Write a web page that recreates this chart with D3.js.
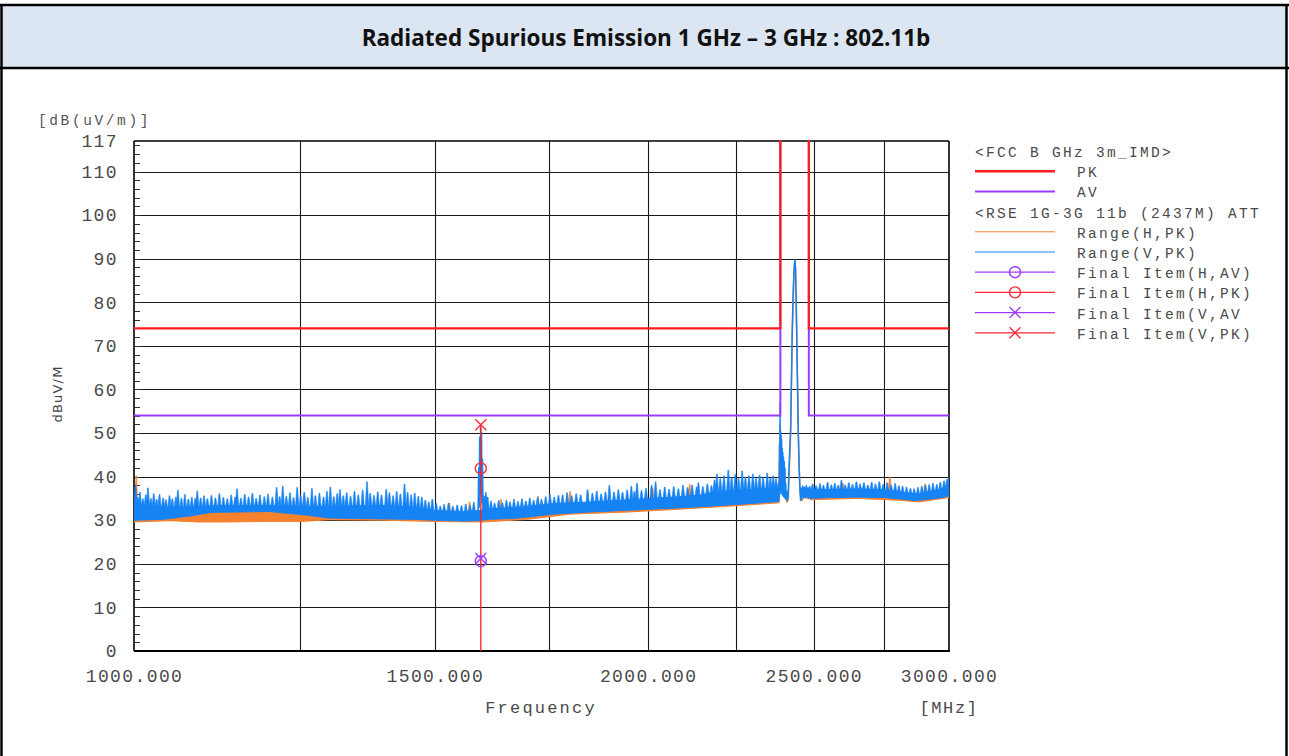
<!DOCTYPE html>
<html>
<head>
<meta charset="utf-8">
<script src="https://cdn.jsdelivr.net/npm/d3@7/dist/d3.min.js"></script>
<style>
  body { margin: 0; background: #fff; }
  svg { display: block; }
</style>
</head>
<body>
<script>
// ---- DONNEES ----

var titre = "Radiated Spurious Emission 1 GHz \u2013 3 GHz : 802.11b";

var yTicks = [0, 10, 20, 30, 40, 50, 60, 70, 80, 90, 100, 110, 117];
var xTicks = [1000, 1500, 2000, 2500, 3000];
var xGrid = [1250, 1500, 1750, 2000, 2250, 2500, 2750];

// limites FCC (MHz, dBuV/m) ; 140 = hors cadre (coupe)
var limitPK = [[1000, 74], [2390, 74], [2390, 140], [2483.5, 140], [2483.5, 74], [3000, 74]];
var limitAV = [[1000, 54], [2390, 54], [2390, 140], [2483.5, 140], [2483.5, 54], [3000, 54]];

// Range(V,PK) : enveloppe du bruit [f, bas, haut]
var coreV_a = [[1000,30.0,33.4],[1040,30.2,33.0],[1080,31.0,33.0],[1110,31.8,33.3],[1200,32.0,33.4],
  [1260,31.2,33.2],[1300,30.5,33.2],[1400,30.3,33.4],[1460,30.2,33.0],[1500,30.0,32.2],[1560,29.8,32.0],
  [1590,29.9,32.2],[1615,30.2,32.6],[1680,30.5,33.0],[1760,31.4,33.8],[1850,31.9,34.2],[1950,32.3,34.7],
  [2050,32.7,35.2],[2150,33.1,35.8],[2190,33.3,36.6],[2250,33.6,36.8],[2330,34.0,37.2],[2386,34.3,37.4]];
var coreV_b = [[2488,35.0,37.0],[2560,35.2,37.0],[2650,35.3,37.2],[2750,35.2,37.0],[2820,34.8,36.4],
  [2870,34.5,36.0],[2930,34.9,36.6],[2975,35.2,37.2],[3000,35.6,37.8]];

// Range(V,PK) : pointes [f, niveau]
var spikesV = [[1002,38.0],[1005,35.2],[1008,36.4],[1012,34.9],[1016,35.8],[1019,37.4],[1023,35.0],[1027,36.1],
  [1031,34.8],[1035,35.9],[1040,35.1],[1044,34.7],[1049,35.6],[1053,34.9],[1058,35.3],[1061,36.9],[1066,35.0],
  [1071,35.9],[1076,34.8],[1081,35.3],[1086,35.0],[1089,36.7],[1094,35.1],[1099,35.6],[1104,34.9],[1110,35.7],
  [1116,35.1],[1122,36.1],[1128,35.2],[1134,34.9],[1140,35.8],[1146,35.3],[1149,37.2],[1155,35.1],[1161,35.9],
  [1167,35.3],[1173,36.2],[1179,35.0],[1185,35.8],[1192,35.4],[1198,36.0],[1205,35.3],[1212,37.5],[1217,35.4],
  [1222,37.8],[1228,35.5],[1234,36.3],[1240,35.2],[1246,37.5],[1252,35.6],[1258,36.4],[1264,35.2],[1271,37.3],
  [1277,35.6],[1284,36.2],[1291,35.3],[1297,36.6],[1303,37.6],[1309,35.4],[1315,36.1],[1320,37.0],[1326,35.6],
  [1332,36.3],[1339,35.5],[1346,36.6],[1353,35.8],[1361,36.9],[1369,38.8],[1375,36.2],[1382,35.7],[1389,36.5],
  [1396,35.8],[1405,37.1],[1411,36.3],[1418,35.6],[1425,36.6],[1432,36.0],[1440,38.3],[1446,36.4],[1453,35.8],
  [1460,36.2],[1467,35.5],[1474,35.3],[1481,34.6],[1488,34.2],[1495,34.8],
  [1503,33.8],[1511,33.2],[1519,33.6],[1528,33.9],[1537,33.2],[1546,33.5],[1555,33.3],[1564,33.7],[1573,33.4],[1581,34.1],
  [1618,34.4],[1626,33.9],[1635,34.5],[1643,34.0],[1652,34.6],[1660,34.2],[1669,34.8],[1678,34.3],[1687,34.9],
  [1696,34.4],[1705,35.1],[1714,34.6],[1723,35.2],[1732,34.8],[1742,35.4],[1752,35.8],[1762,35.3],[1772,35.7],
  [1782,35.8],[1793,36.3],[1804,35.6],[1815,36.1],[1826,35.8],[1843,37.0],[1855,36.2],[1866,36.7],[1877,36.0],
  [1888,36.5],[1898,38.0],[1910,36.5],[1921,37.0],[1932,36.4],[1944,36.9],[1955,37.8],[1963,36.6],[1970,38.5],
  [1982,36.8],[1994,37.3],[2009,38.0],[2020,38.8],[2032,37.0],[2045,37.6],[2057,37.1],[2070,37.7],[2083,37.2],
  [2096,38.0],[2109,37.5],[2122,38.1],[2135,37.6],[2140,38.6],[2153,37.7],[2166,38.3],[2178,37.9],[2187,39.2],
  [2194,40.6],[2204,39.5],[2215,40.2],[2228,41.5],[2238,39.8],[2249,40.5],[2259,39.6],[2270,41.3],[2280,39.8],
  [2291,40.2],[2303,40.6],[2313,39.6],[2324,40.3],[2335,39.8],[2348,40.8],[2358,39.7],[2367,40.2],[2376,39.5],
  [2496,38.3],[2508,37.9],[2521,38.4],[2533,38.0],[2547,38.7],[2560,38.1],[2572,38.5],[2584,38.0],[2595,39.2],
  [2608,38.1],[2621,38.6],[2634,38.2],[2648,38.8],[2661,38.3],[2675,38.6],[2689,38.1],[2703,38.7],[2717,38.3],
  [2731,38.8],[2745,38.2],[2760,38.6],[2775,38.0],[2790,38.4],[2804,37.9],[2818,37.8],[2833,37.6],[2848,37.3],
  [2862,37.2],[2877,37.5],[2892,37.8],[2906,38.0],[2921,38.2],[2936,38.5],[2951,38.2],[2965,38.7],[2980,39.0],
  [2992,39.4],[2999,39.8]];

// Range(V,PK) : trace detaillee autour des raies [f, niveau]
var traceV_1596 = [[1586,31.0],[1590,31.2],[1591.5,42.0],[1592.5,33.0],[1593.5,49.0],[1594.5,36.0],[1595.5,51.3],
  [1596.5,38.0],[1597.5,50.2],[1598.5,34.0],[1599.5,44.0],[1601,31.5],[1603,35.5],[1605,31.8],[1607,36.3],
  [1609,32.0],[1611,35.2],[1613,31.6]];
var traceV_2437 = [[2381,35.0],[2384,38.4],[2386,35.2],[2387.5,47.5],[2388.5,36.0],[2389,57.0],[2390,38.0],
  [2390.8,50.5],[2391.6,37.0],[2392.4,49.5],[2393.2,36.5],[2394,48.5],[2395,36.0],[2396,46.5],[2397,35.8],
  [2398,45.5],[2399,35.5],[2400,44.5],[2401.2,35.4],[2402.4,43.5],[2403.6,35.2],[2404.8,42.0],[2406,35.0],
  [2407.5,38.5],[2409,34.8],[2411,36.6],[2413,34.5],[2415.6,36.2],[2419,44.0],[2423.4,51.0],[2426,62.0],
  [2428.6,73.6],[2432,83.5],[2435.5,88.6],[2437.5,89.7],[2439.5,87.6],[2441.5,80.5],[2443.1,73.6],[2446,61.0],
  [2448.4,50.7],[2451,42.5],[2454,37.0],[2456,34.6],[2458,37.4],[2460,35.0],[2463,37.8],[2466,35.2],[2469,37.6],
  [2472,35.1],[2475,37.9],[2478,35.3],[2481,37.5],[2484,35.0],[2487,37.7],[2490,35.2]];

// Range(H,PK)
var coreH_a = [[1000,29.6,31.0],[1050,29.9,31.2],[1090,29.6,31.9],[1130,29.6,32.4],[1190,29.7,32.3],
  [1250,29.7,31.8],[1300,30.1,31.2],[1400,30.0,31.0],[1500,29.7,30.8],[1600,29.6,31.0],[1700,30.2,31.6],
  [1800,31.4,32.6],[1950,31.9,33.4],[2100,32.6,34.4],[2250,33.3,35.6],[2386,34.0,36.4]];
var coreH_b = [[2488,34.7,36.8],[2650,35.0,37.0],[2800,34.6,36.6],[2880,34.2,36.0],[3000,35.2,37.6]];
var spikesH = [[1003,40.2],[1258,35.8],[1530,33.9],[1572,34.2],[1640,34.8],[1724,35.5],[1800,36.6],
  [2012,37.4],[2115,38.2],[2600,38.4],[2770,39.9],[2905,38.3]];
var traceH_1596 = [[1590,30.6],[1592,35.0],[1594,39.0],[1596,41.0],[1598,38.0],[1600,33.0],[1602,30.8]];
var traceH_2437 = [[2381,34.2],[2385,37.0],[2388.7,52.0],[2390.5,42.0],[2392.5,47.0],[2395,41.0],[2398,43.5],
  [2401,38.0],[2404,40.0],[2407,35.0],[2412,34.2],[2415.6,35.0],[2423.4,50.2],[2428.6,73.0],[2435.5,88.2],
  [2437.5,89.3],[2439.5,87.2],[2443.1,73.0],[2448.4,50.0],[2454,36.2],[2460,34.5],[2470,35.6],[2480,35.0],[2490,35.8]];

// Final Items
var finalFreq = 1596;
var finalHAV = 20.6, finalHPK = 41.9, finalVAV = 21.2, finalVPK = 51.9;

var legendHead1 = "<FCC B GHz 3m_IMD>";
var legendHead2 = "<RSE 1G-3G 11b (2437M) ATT";
var legendItems = [
  {row: 1, label: "PK", color: "#ff1c1c", width: 2.6, mark: null},
  {row: 2, label: "AV", color: "#9b3cff", width: 2, mark: null},
  {row: 4, label: "Range(H,PK)", color: "#f7822e", width: 1, mark: null},
  {row: 5, label: "Range(V,PK)", color: "#1683f5", width: 1, mark: null},
  {row: 6, label: "Final Item(H,AV)", color: "#9b3cff", width: 1.2, mark: "o"},
  {row: 7, label: "Final Item(H,PK)", color: "#ff2a3a", width: 1.2, mark: "o"},
  {row: 8, label: "Final Item(V,AV", color: "#9b3cff", width: 1.2, mark: "x"},
  {row: 9, label: "Final Item(V,PK)", color: "#ff2a3a", width: 1.2, mark: "x"}
];

// ---- ELEMENT SVG ----

var W = 1289, H = 756;
var plot = {left: 134, right: 949, top: 141, bottom: 651};

var svg = d3.select("body").append("svg")
    .attr("width", W)
    .attr("height", H);

// cadre du tableau
svg.append("rect").attr("x", 1).attr("y", 5).attr("width", 1286).attr("height", 63)
    .attr("fill", "#dce6f2");
svg.append("line").attr("x1", 0).attr("x2", W).attr("y1", 5).attr("y2", 5)
    .attr("stroke", "#000").attr("stroke-width", 2.5);
svg.append("line").attr("x1", 0).attr("x2", W).attr("y1", 68).attr("y2", 68)
    .attr("stroke", "#000").attr("stroke-width", 2.5);
svg.append("line").attr("x1", 1.5).attr("x2", 1.5).attr("y1", 4).attr("y2", H)
    .attr("stroke", "#000").attr("stroke-width", 2.5);
svg.append("line").attr("x1", 1286.5).attr("x2", 1286.5).attr("y1", 4).attr("y2", H)
    .attr("stroke", "#000").attr("stroke-width", 2.5);

var t = svg.append("text")
    .attr("x", 646).attr("y", 46)
    .attr("text-anchor", "middle")
    .style("font-family", "'Open Sans', 'Noto Sans', sans-serif")
    .style("font-weight", "bold")
    .style("font-size", "20px")
    .attr("fill", "#111")
    .text(titre);
var tw = t.node().getComputedTextLength();
t.style("font-size", (20 * 569 / tw).toFixed(2) + "px");

// ---- ECHELLES ----

var x = d3.scaleLog().domain([1000, 3000]).range([plot.left, plot.right]);
var y = d3.scaleLinear().domain([0, 117]).range([plot.bottom, plot.top]);

var mono = "'Liberation Mono', 'DejaVu Sans Mono', monospace";
var txtCol = "#4a4a4a";

// ---- GRILLE ET AXES ----

var g = svg.append("g");

g.selectAll(".hgrid").data(yTicks.filter(function(d) { return d > 0 && d < 117; }))
  .enter().append("line")
    .attr("x1", plot.left).attr("x2", plot.right)
    .attr("y1", function(d) { return Math.round(y(d)) + 0.5; })
    .attr("y2", function(d) { return Math.round(y(d)) + 0.5; })
    .attr("stroke", "#1a1a1a").attr("stroke-width", 1.1);

g.selectAll(".vgrid").data(xGrid)
  .enter().append("line")
    .attr("x1", function(d) { return Math.round(x(d)) + 0.5; })
    .attr("x2", function(d) { return Math.round(x(d)) + 0.5; })
    .attr("y1", plot.top).attr("y2", plot.bottom)
    .attr("stroke", "#1a1a1a").attr("stroke-width", 1.1);

// petites graduations (2 dB)
g.selectAll(".minor").data(d3.range(2, 117, 2))
  .enter().append("line")
    .attr("x1", plot.left).attr("x2", plot.left + 6)
    .attr("y1", function(d) { return Math.round(y(d)) + 0.5; })
    .attr("y2", function(d) { return Math.round(y(d)) + 0.5; })
    .attr("stroke", "#333").attr("stroke-width", 1);

var axX = svg.append("g")
    .attr("transform", "translate(0," + plot.bottom + ")")
    .call(d3.axisBottom(x).tickValues(xTicks).tickFormat(d3.format(".3f")).tickSize(0).tickPadding(18));
axX.select(".domain").remove();
axX.selectAll("text")
    .style("font-family", mono).style("font-size", "18px").style("letter-spacing", "1.4px")
    .attr("fill", txtCol);

var axY = svg.append("g")
    .attr("transform", "translate(" + plot.left + ",0)")
    .call(d3.axisLeft(y).tickValues(yTicks).tickSize(0).tickPadding(16));
axY.select(".domain").remove();
axY.selectAll("text")
    .style("font-family", mono).style("font-size", "18px").style("letter-spacing", "1.4px")
    .attr("fill", txtCol);

// cadre du graphique
svg.append("line").attr("x1", plot.left).attr("x2", plot.right + 1)
    .attr("y1", plot.bottom).attr("y2", plot.bottom).attr("stroke", "#000").attr("stroke-width", 2.2);
svg.append("line").attr("x1", plot.left).attr("x2", plot.left)
    .attr("y1", plot.top).attr("y2", plot.bottom).attr("stroke", "#000").attr("stroke-width", 1.6);
svg.append("line").attr("x1", plot.left).attr("x2", plot.right)
    .attr("y1", plot.top).attr("y2", plot.top).attr("stroke", "#000").attr("stroke-width", 1.6);
svg.append("line").attr("x1", plot.right).attr("x2", plot.right)
    .attr("y1", plot.top).attr("y2", plot.bottom).attr("stroke", "#000").attr("stroke-width", 1.6);

// titres d'axes
svg.append("text").attr("x", 38).attr("y", 125)
    .style("font-family", mono).style("font-size", "14.5px").style("letter-spacing", "2.6px")
    .attr("fill", "#555").text("[dB(uV/m)]");
svg.append("text").attr("transform", "translate(62,394) rotate(-90)")
    .attr("text-anchor", "middle")
    .style("font-family", "'DejaVu Sans', sans-serif").style("font-size", "13px").style("letter-spacing", "1.2px")
    .attr("fill", "#444").text("dBuV/M");
svg.append("text").attr("x", 541).attr("y", 713).attr("text-anchor", "middle")
    .style("font-family", mono).style("font-size", "17px").style("letter-spacing", "2.2px")
    .attr("fill", txtCol).text("Frequency");
svg.append("text").attr("x", 949).attr("y", 713).attr("text-anchor", "middle")
    .style("font-family", mono).style("font-size", "17px").style("letter-spacing", "1.6px")
    .attr("fill", txtCol).text("[MHz]");

// ---- COURBES ----

svg.append("clipPath").attr("id", "zone").append("rect")
    .attr("x", plot.left).attr("y", plot.top - 1)
    .attr("width", plot.right - plot.left).attr("height", plot.bottom - plot.top + 1);

var data = svg.append("g").attr("clip-path", "url(#zone)");

var aire = d3.area()
    .x(function(d) { return x(d[0]); })
    .y0(function(d) { return y(d[1]); })
    .y1(function(d) { return y(d[2]); });

var ligne = d3.line()
    .x(function(d) { return x(d[0]); })
    .y(function(d) { return y(d[1]); });

function traceRange(cores, spikes, traces, couleur) {
  var all = cores[0].concat(cores[1]);
  var haut = d3.scaleLinear().domain(all.map(function(d) { return d[0]; }))
      .range(all.map(function(d) { return d[2]; }));
  cores.forEach(function(c) {
    data.append("path").datum(c)
        .attr("d", aire).attr("fill", couleur)
        .attr("stroke", couleur).attr("stroke-width", 1);
  });
  // chaque pointe : petit pic etroit pose sur le haut de la bande
  data.selectAll(null).data(spikes).enter().append("path")
      .attr("d", function(d) {
        var px = x(d[0]), base = y(haut(d[0])) + 1.5, top = y(d[1]);
        return "M" + (px - 1.7) + "," + base + "L" + (px - 0.4) + "," + top +
               "L" + (px + 0.4) + "," + top + "L" + (px + 1.7) + "," + base + "Z";
      })
      .attr("fill", couleur).attr("stroke", couleur).attr("stroke-width", 0.6);
  traces.forEach(function(tr) {
    data.append("path").datum(tr)
        .attr("d", ligne).attr("fill", "none")
        .attr("stroke", couleur).attr("stroke-width", 1.5)
        .attr("stroke-linejoin", "round");
  });
}

traceRange([coreH_a, coreH_b], spikesH, [traceH_1596, traceH_2437], "#f7822e");
traceRange([coreV_a, coreV_b], spikesV, [traceV_1596, traceV_2437], "#1683f5");

// limites
data.append("path").datum(limitAV)
    .attr("d", ligne).attr("fill", "none")
    .attr("stroke", "#9b3cff").attr("stroke-width", 2);
data.append("path").datum(limitPK)
    .attr("d", ligne).attr("fill", "none")
    .attr("stroke", "#ff1c1c").attr("stroke-width", 2.2);

// Final Items
data.append("line")
    .attr("x1", x(finalFreq)).attr("x2", x(finalFreq))
    .attr("y1", y(0)).attr("y2", y(finalVPK))
    .attr("stroke", "#ff1c1c").attr("stroke-width", 1.3);

function rond(sel, cx, cy, col) {
  sel.append("circle").attr("cx", cx).attr("cy", cy).attr("r", 5.5)
      .attr("fill", "none").attr("stroke", col).attr("stroke-width", 1.4);
}
function croix(sel, cx, cy, col) {
  var s = 5.5;
  sel.append("path")
      .attr("d", "M" + (cx - s) + "," + (cy - s) + "L" + (cx + s) + "," + (cy + s) +
                 "M" + (cx - s) + "," + (cy + s) + "L" + (cx + s) + "," + (cy - s))
      .attr("fill", "none").attr("stroke", col).attr("stroke-width", 1.4);
}

rond(data, x(finalFreq), y(finalHAV), "#9b3cff");
croix(data, x(finalFreq), y(finalVAV), "#9b3cff");
rond(data, x(finalFreq), y(finalHPK), "#ff2a3a");
croix(data, x(finalFreq), y(finalVPK), "#ff2a3a");

// ---- LEGENDE ----

svg.append("clipPath").attr("id", "leg").append("rect")
    .attr("x", 960).attr("y", 130).attr("width", 303).attr("height", 230);

var leg = svg.append("g").attr("clip-path", "url(#leg)");
var rowY = function(r) { return 152 + r * 20.2; };

[[0, legendHead1], [3, legendHead2]].forEach(function(h) {
  leg.append("text").attr("x", 975).attr("y", rowY(h[0]) + 5)
      .style("font-family", mono).style("font-size", "14.5px").style("letter-spacing", "2.3px")
      .attr("fill", txtCol).text(h[1]);
});

legendItems.forEach(function(it) {
  var ly = rowY(it.row) - 1;
  leg.append("line").attr("x1", 975).attr("x2", 1055).attr("y1", ly).attr("y2", ly)
      .attr("stroke", it.color).attr("stroke-width", it.width);
  if (it.mark === "o") rond(leg, 1015, ly, it.color);
  if (it.mark === "x") croix(leg, 1015, ly, it.color);
  leg.append("text").attr("x", 1077).attr("y", rowY(it.row) + 5)
      .style("font-family", mono).style("font-size", "14.5px").style("letter-spacing", "2.3px")
      .attr("fill", txtCol).text(it.label);
});
</script>
</body>
</html>
